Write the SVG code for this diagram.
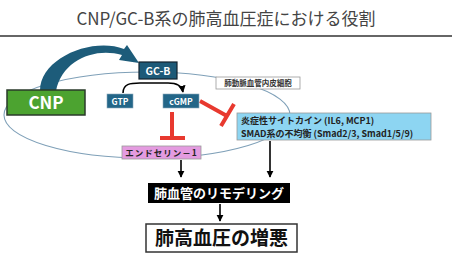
<svg xmlns="http://www.w3.org/2000/svg" width="454" height="255" viewBox="0 0 454 255">
<defs>
<style>
.t{font-family:"Noto Sans CJK JP","Liberation Sans",sans-serif;}
.w{fill:#fff;font-weight:bold;}
.conn{stroke:#000;stroke-width:1.6;fill:none;}
.inh{stroke:#e8392f;stroke-width:4;fill:none;}
</style>
<marker id="ah" viewBox="0 0 10 10" refX="9" refY="5" markerWidth="4.5" markerHeight="4.5" orient="auto">
<path d="M0,0 L10,5 L0,10 Z" fill="#000"/>
</marker>
</defs>
<rect width="454" height="255" fill="#fff"/>
<text class="t" x="226" y="25" font-size="17" fill="#444" text-anchor="middle">CNP/GC-B系の肺高血圧症における役割</text>
<line x1="0" y1="36" x2="452" y2="36" stroke="#666" stroke-width="2"/>

<ellipse id="cell" cx="147" cy="115" rx="143" ry="43" fill="none" stroke="#7fa0b8" stroke-width="1.1"/>

<g id="connectors">
<path d="M40,91 C40,58 92,37 124,49 L127,45 L139,63 L119,60 L122,55 C95,47 62,60 56,91 Z" fill="#1d5c7a"/>
<path class="conn" d="M123,93 C123,84 130,83 140,83 L168,83 C178,83 182,86 183,92" marker-end="url(#ah)"/>
<path class="inh" d="M172,112 L172,138 M160,138 L185,138"/>
<path class="inh" d="M200,101 L227,116 M234,104 L221,126"/>
<path class="conn" d="M181,160 L181,177" marker-end="url(#ah)"/>
<path class="conn" d="M270,141 L270,177" marker-end="url(#ah)"/>
<path class="conn" d="M220,204 L220,221" marker-end="url(#ah)"/>
</g>

<g id="cnp">
<rect x="7" y="90" width="78" height="25" fill="#4ca330" stroke="#2a3a2a" stroke-width="1.5"/>
<text class="t w" x="46" y="109" font-size="17" text-anchor="middle">CNP</text>
</g>

<g id="gcb">
<rect x="139" y="62" width="38" height="17" fill="#1d5a78" stroke="#13222e" stroke-width="1.2"/>
<text class="t w" x="158" y="74.5" font-size="10.5" text-anchor="middle">GC-B</text>
</g>

<g id="gtp">
<rect x="107" y="94" width="26" height="14" fill="#236688" stroke="#8aa8bb" stroke-width="0.6"/>
<text class="t w" x="120" y="104.5" font-size="8.5" text-anchor="middle">GTP</text>
</g>

<g id="cgmp">
<rect x="163" y="94" width="36" height="14" fill="#236688" stroke="#8aa8bb" stroke-width="0.6"/>
<text class="t w" x="181" y="104.5" font-size="8.5" text-anchor="middle">cGMP</text>
</g>

<g id="endothelial">
<rect x="216" y="77" width="84" height="12" fill="#fff" stroke="#999" stroke-width="0.8"/>
<text class="t" x="258" y="86.3" font-size="7.5" font-weight="bold" fill="#333" text-anchor="middle">肺動脈血管内皮細胞</text>
</g>

<g id="cytokine">
<rect x="237" y="113" width="194" height="27" fill="#8dd5f2" stroke="#999" stroke-width="0.8"/>
<text class="t" x="241" y="124.3" font-size="9" font-weight="bold" fill="#222">炎症性サイトカイン (IL6, MCP1)</text>
<text class="t" x="241" y="136.5" font-size="9" font-weight="bold" fill="#222">SMAD系の不均衡 (Smad2/3, Smad1/5/9)</text>
</g>

<g id="endothelin">
<rect x="122" y="146" width="79" height="13" fill="#e49be0" stroke="#999" stroke-width="0.8"/>
<text class="t" x="161.5" y="156" font-size="8.5" font-weight="bold" fill="#222" text-anchor="middle" letter-spacing="1">エンドセリン－1</text>
</g>

<g id="remodeling">
<rect x="148" y="183" width="142" height="20" fill="#000"/>
<text class="t w" x="219" y="198" font-size="13" text-anchor="middle">肺血管のリモデリング</text>
</g>

<g id="worsening">
<rect x="146" y="224" width="151" height="28" fill="#fff" stroke="#333" stroke-width="1.5"/>
<text class="t" x="221.5" y="245" font-size="19" font-weight="bold" fill="#111" text-anchor="middle">肺高血圧の増悪</text>
</g>
</svg>
